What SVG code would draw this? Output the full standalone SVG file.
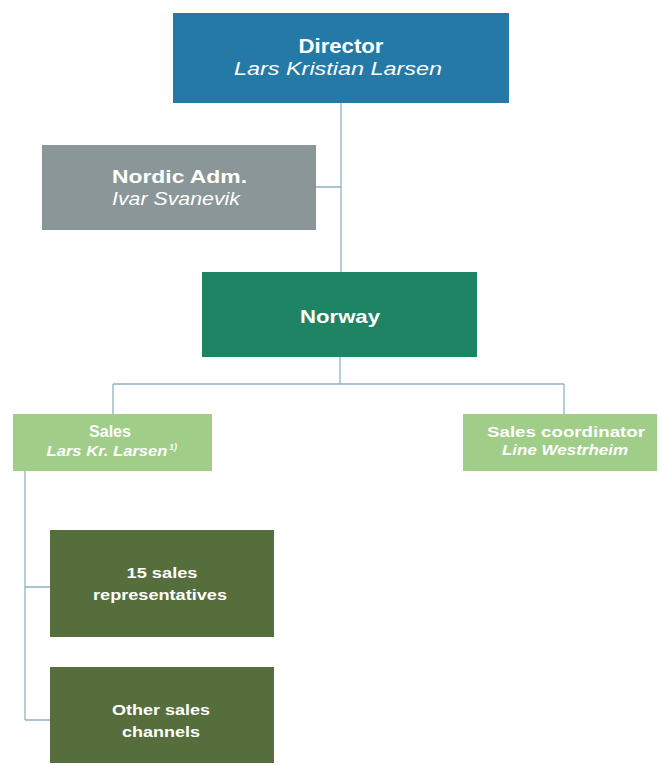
<svg xmlns="http://www.w3.org/2000/svg" width="659" height="766" viewBox="0 0 659 766">
<style>
.t{font-family:"Liberation Sans",Arial,sans-serif;fill:#ffffff;text-anchor:middle}
.b{font-weight:bold}
.i{font-style:italic}
.c{fill:none;stroke:#8fb3c1;stroke-width:1.3}
</style>
<rect width="659" height="766" fill="#ffffff"/>
<g id="connectors">
<path class="c" d="M341 103V272M316 187H341"/>
<path class="c" d="M340 357V384M113 384H564M113 384V414M564 384V414"/>
<path class="c" d="M25 471V720M25 587H50M25 720H50"/>
</g>
<g id="director">
<rect x="173" y="13" width="336" height="90" fill="#2579a6"/>
<text class="t b" x="341" y="53" font-size="20" textLength="85" lengthAdjust="spacingAndGlyphs">Director</text>
<text class="t i" x="338" y="75" font-size="19" textLength="208" lengthAdjust="spacingAndGlyphs">Lars Kristian Larsen</text>
</g>
<g id="nordic">
<rect x="42" y="145" width="274" height="85" fill="#8b9698"/>
<text class="t b" x="179.5" y="183" font-size="19" textLength="135" lengthAdjust="spacingAndGlyphs">Nordic Adm.</text>
<text class="t i" x="176" y="205" font-size="19" textLength="128" lengthAdjust="spacingAndGlyphs">Ivar Svanevik</text>
</g>
<g id="norway">
<rect x="202" y="272" width="275" height="85" fill="#1e8464"/>
<text class="t b" x="340" y="323" font-size="19" textLength="80" lengthAdjust="spacingAndGlyphs">Norway</text>
</g>
<g id="sales">
<rect x="13" y="414" width="199" height="57" fill="#a0cd88"/>
<text class="t b" x="110" y="437" font-size="16" textLength="42" lengthAdjust="spacingAndGlyphs">Sales</text>
<text class="t b i" x="107" y="456" font-size="15" textLength="121" lengthAdjust="spacingAndGlyphs">Lars Kr. Larsen</text>
<text class="t b i" x="173" y="450" font-size="9">1)</text>
</g>
<g id="coordinator">
<rect x="463" y="414" width="194" height="57" fill="#a0cd88"/>
<text class="t b" x="566" y="437" font-size="15" textLength="158" lengthAdjust="spacingAndGlyphs">Sales coordinator</text>
<text class="t b i" x="565" y="455" font-size="15" textLength="126" lengthAdjust="spacingAndGlyphs">Line Westrheim</text>
</g>
<g id="reps">
<rect x="50" y="530" width="224" height="107" fill="#566e3c"/>
<text class="t b" x="162" y="578" font-size="15" textLength="71" lengthAdjust="spacingAndGlyphs">15 sales</text>
<text class="t b" x="160" y="600" font-size="15" textLength="134" lengthAdjust="spacingAndGlyphs">representatives</text>
</g>
<g id="channels">
<rect x="50" y="667" width="224" height="96" fill="#566e3c"/>
<text class="t b" x="161" y="715" font-size="15" textLength="98" lengthAdjust="spacingAndGlyphs">Other sales</text>
<text class="t b" x="161" y="737" font-size="15" textLength="78" lengthAdjust="spacingAndGlyphs">channels</text>
</g>
</svg>
